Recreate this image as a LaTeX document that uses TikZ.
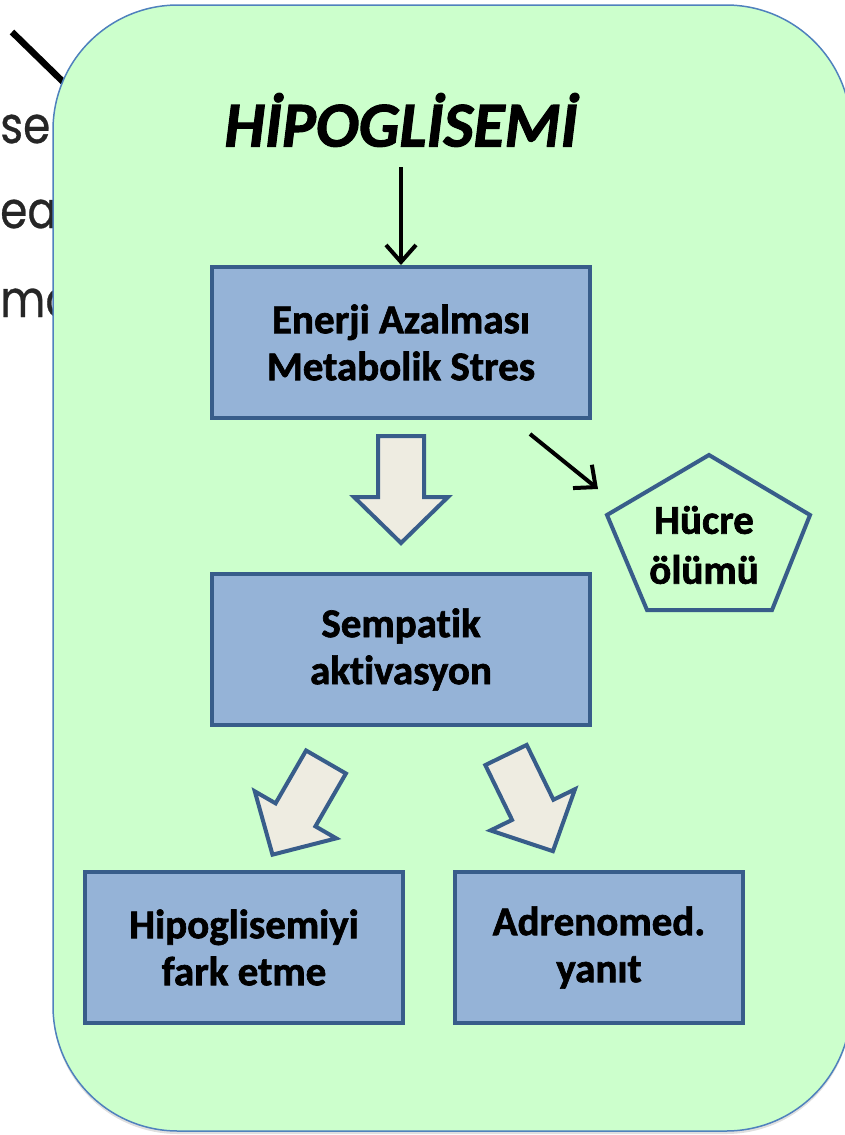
\documentclass[tikz,border=0pt]{standalone}
\usepackage{fontspec}
\setmainfont{Carlito}[Ligatures=NoCommon, BoldFeatures={FakeBold=1.6}, BoldItalicFeatures={FakeBold=1.6}]
\newfontfamily\bgfont{Poppins}[FakeBold=0.6]
\usetikzlibrary{arrows.meta,shadows,calc}
\definecolor{bggreen}{HTML}{CCFFCC}
\definecolor{bgborder}{HTML}{4F81BD}
\definecolor{boxfill}{HTML}{95B3D7}
\definecolor{boxline}{HTML}{385D8A}
\definecolor{arrowfill}{HTML}{EEECE1}
\definecolor{fragtext}{HTML}{262626}
\tikzset{
  stepbox/.style={draw=boxline, fill=boxfill, line width=4pt, align=center,
    font=\fontsize{41}{47}\selectfont\bfseries, inner sep=0pt, minimum height=151pt,
    drop shadow={shadow xshift=1.5pt, shadow yshift=-2pt, opacity=0.25}},
  frag/.style={font=\bgfont\fontsize{51}{60}\selectfont, text=fragtext, inner sep=0pt},
  thinarrow/.style={line width=4pt, -{Straight Barb[length=17pt,width=30pt]}},
  blockarrow/.style={draw=boxline, fill=arrowfill, line width=4pt, line join=miter},
  pentline/.style={draw=boxline, line width=4pt, line join=miter},
  lbl/.style={align=center, font=\fontsize{41}{50}\selectfont\bfseries, inner sep=0pt},
  barrow/.pic={\path[blockarrow] (0,-23) -- (61,-23) -- (61,-47) -- (107,0) -- (61,47) -- (61,23) -- (0,23) -- cycle;}
}
\begin{document}
\begin{tikzpicture}[x=1pt,y=-1pt]
\useasboundingbox (0,0) rectangle (845,1135);
% fragments of the slide behind
\node[frag, anchor=base west] (f1) at (0,143) {\scalebox{0.86}[1]{se}};
\node[frag, anchor=base west] (f2) at (0,228) {\scalebox{0.86}[1]{ea}};
\node[frag, anchor=base west] (f3) at (0,317) {\scalebox{0.86}[1]{mo}};
\coordinate (d1) at (12,32);
\coordinate (d2) at (95,113);
\draw[line width=6.5pt] (d1) -- (d2);
% green panel
\path[fill=bggreen, draw=bgborder, line width=1.5pt, rounded corners=125pt,
  drop shadow={shadow xshift=0pt, shadow yshift=-3pt, opacity=0.25}]
  (53,5) rectangle (851,1131);
% title
\node[font=\fontsize{64}{70}\selectfont\bfseries\itshape, inner sep=0pt] (title) at (401,120) {HİPOGLİSEMİ};
% boxes
\node[stepbox, minimum width=378pt] (b1) at (401,342.5) {Enerji Azalması\\Metabolik Stres};
\node[stepbox, minimum width=378pt] (b2) at (401,649.5) {Sempatik\\aktivasyon};
\node[stepbox, minimum width=318pt] (b3) at (244,947.5) {Hipoglisemiyi\\fark etme};
\node[stepbox, minimum width=288pt] (b4) at (599,947.5) {Adrenomed.\\yanıt};
% pentagon
\draw[pentline] (709,455) -- (810,515) -- (772,610) -- (647,610) -- (607,515) -- cycle;
\node[lbl] (hucre) at (704,545) {Hücre\\ölümü};
% thin arrows
\coordinate (t0) at (401,167);
\draw[thinarrow] (t0) -- (b1.north);
\coordinate (h0) at (530,434);
\coordinate (h1) at (598,489);
\draw[thinarrow] (h0) -- (h1);
% block arrows
\pic[rotate=-90] at (401,436) {barrow};
\pic[rotate=-120] at (326,762) {barrow};
\pic[rotate=-64] at (506,755) {barrow};
\end{tikzpicture}
\end{document}
